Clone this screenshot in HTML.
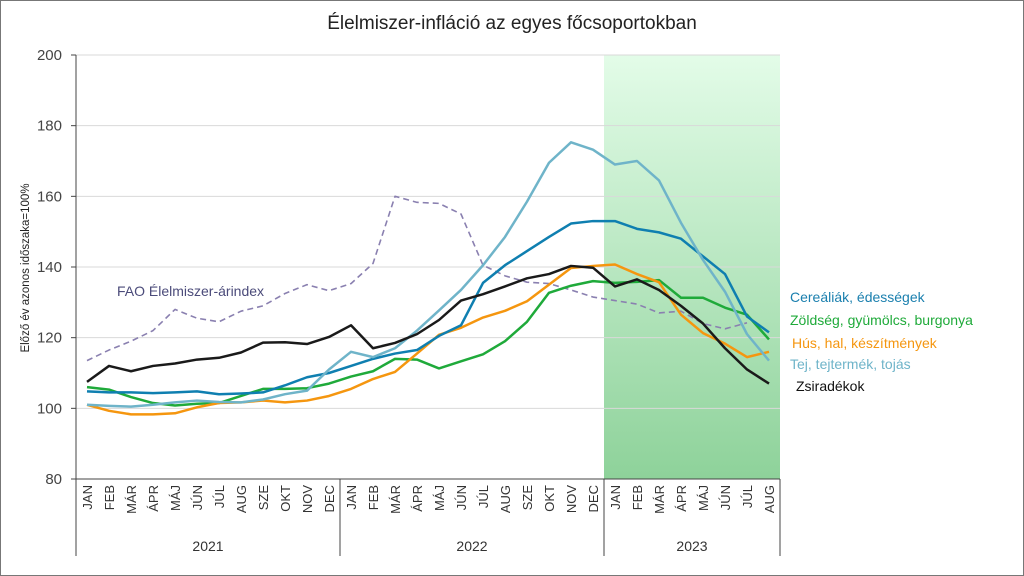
<!DOCTYPE html>
<html><head><meta charset="utf-8"><style>
body{margin:0;background:#fff;}
svg{display:block;font-family:"Liberation Sans",sans-serif;}
</style></head><body>
<svg id="chart" width="1024" height="576" viewBox="0 0 1024 576">
<defs><linearGradient id="g" x1="0" y1="0" x2="0" y2="1"><stop offset="0" stop-color="#e3fce8"/><stop offset="1" stop-color="#8ed29a"/></linearGradient></defs>
<rect x="0.5" y="0.5" width="1023" height="575" fill="#fff" stroke="#777"/>
<text x="512" y="29" text-anchor="middle" font-size="19" fill="#222">Élelmiszer-infláció az egyes főcsoportokban</text>
<g id="plot"></g>
</svg>
<script>
const months=["JAN","FEB","MÁR","ÁPR","MÁJ","JÚN","JÚL","AUG","SZE","OKT","NOV","DEC"];
const years=["2021","2022","2023"];
const yTicks=[80,100,120,140,160,180,200];
const zsir=[107.5,112,110.5,112,112.7,113.8,114.3,115.8,118.6,118.7,118.2,120.2,123.5,117,118.5,121,125,130.5,132.3,134.5,136.8,138,140.3,139.8,134.5,136.5,133.5,129,124,117,111,107];
const cereal=[104.8,104.5,104.5,104.3,104.5,104.8,104,104.2,104.5,106.5,108.8,110,112,114,115.5,116.5,120.5,123.5,135.5,140.5,144.5,148.5,152.3,153,153,150.8,149.8,148,143,138,126,121.5];
const zold=[106,105.3,103.2,101.5,100.8,101.3,101.5,103.5,105.5,105.5,105.7,107,109,110.5,114,113.8,111.3,113.3,115.3,119,124.5,132.7,134.7,136,135.5,135.8,136.3,131.3,131.3,128.5,126.5,119.5];
const hus=[101,99.3,98.3,98.3,98.6,100.3,101.5,101.7,102.2,101.7,102.2,103.5,105.5,108.3,110.3,115.5,120.8,122.8,125.7,127.6,130.3,135,139.7,140.3,140.7,138,135.7,126.5,121.3,118.3,114.5,116];
const tej=[101,100.7,100.5,101,101.7,102.2,101.8,101.7,102.5,104,105,111,116,114.5,117,122,127.7,133.5,140.5,148.5,158.5,169.5,175.3,173.2,169,170,164.5,152.5,142,133,121,113.5];
const fao=[113.5,116.5,119,122,128,125.5,124.5,127.5,129,132.5,135,133.3,135.3,141,160,158.3,158,155,140.5,137.5,135.7,135.3,133.5,131.5,130.5,129.5,127,127.5,124,122.5,124.2];
const L=76,R=780,T=55,B=479,N=32,cw=(R-L)/N;
const xs=i=>L+cw*(i+0.5);
const ys=v=>B-(v-80)/120*(B-T);
const ns="http://www.w3.org/2000/svg";
const g=document.getElementById('plot');
function mk(t,a,p){const e=document.createElementNS(ns,t);for(const k in a)e.setAttribute(k,a[k]);(p||g).appendChild(e);return e;}
const sh=mk('rect',{x:L+cw*24,y:T,width:cw*8,height:B-T,fill:'url(#g)'});


yTicks.forEach(v=>{
 const l=mk('line',{x1:L,x2:R,y1:ys(v),y2:ys(v),stroke:v==80?'#444':'#d9d9d9','stroke-width':1});
 
 
 const tk=mk('line',{x1:L-5,x2:L,y1:ys(v),y2:ys(v),stroke:'#444'});
 
 
 const t=mk('text',{x:62,y:ys(v)+5,'text-anchor':'end','font-size':15,fill:'#444'});t.textContent=v;
 
 
});
const ax=mk('line',{x1:L,x2:L,y1:T,y2:B,stroke:'#444'});


const yt=mk('text',{transform:'translate(29,268) rotate(-90)','text-anchor':'middle','font-size':11.5,fill:'#222'});yt.textContent='Előző év azonos időszaka=100%';


for(let i=0;i<N;i++){
 const t=mk('text',{transform:`translate(${xs(i)+5},485) rotate(-90)`,'text-anchor':'end','font-size':13,fill:'#333'});t.textContent=months[i%12];
 
 
}
for(let k=0;k<=3;k++){
 const x=Math.min(L+cw*12*k,R);
 const l=mk('line',{x1:x,x2:x,y1:B,y2:556,stroke:'#444'});
 
 
}
years.forEach((y,k)=>{
 const a=L+cw*12*k,b=Math.min(a+cw*12,R);
 const t=mk('text',{x:(a+b)/2,y:551,'text-anchor':'middle','font-size':14,fill:'#333'});t.textContent=y;
 
 
});
function line(d,c,name,dash,w){
 const p=mk('polyline',{points:d.map((v,i)=>xs(i)+','+ys(v)).join(' '),fill:'none',stroke:c,'stroke-width':w||2.5,'stroke-linejoin':'round'});
 if(dash)p.setAttribute('stroke-dasharray',dash);
 
 
}
line(fao,'#8a80b0','fao-index-line','6 4',1.6);
line(zold,'#1faa3a','zoldseg-line');
line(hus,'#f5960f','hus-line');
line(cereal,'#0f7fb0','cereal-line');
line(tej,'#6fb4c9','tej-line');
line(zsir,'#1a1a1a','zsiradek-line');
const labels=[["Cereáliák, édességek","#1a7fae",790,302,"legend-cereal"],["Zöldség, gyümölcs, burgonya","#1faa3a",790,325,"legend-zoldseg"],["Hús, hal, készítmények","#f5960f",792,348,"legend-hus"],["Tej, tejtermék, tojás","#6fb4c9",790,369,"legend-tej"],["Zsiradékok","#111",796,391,"legend-zsiradek"],["FAO Élelmiszer-árindex","#4b4b7a",117,296,"legend-fao"]];
labels.forEach(a=>{const t=mk('text',{x:a[2],y:a[3],'font-size':14,fill:a[1]});t.textContent=a[0];
 
 });
</script>
</body></html>
